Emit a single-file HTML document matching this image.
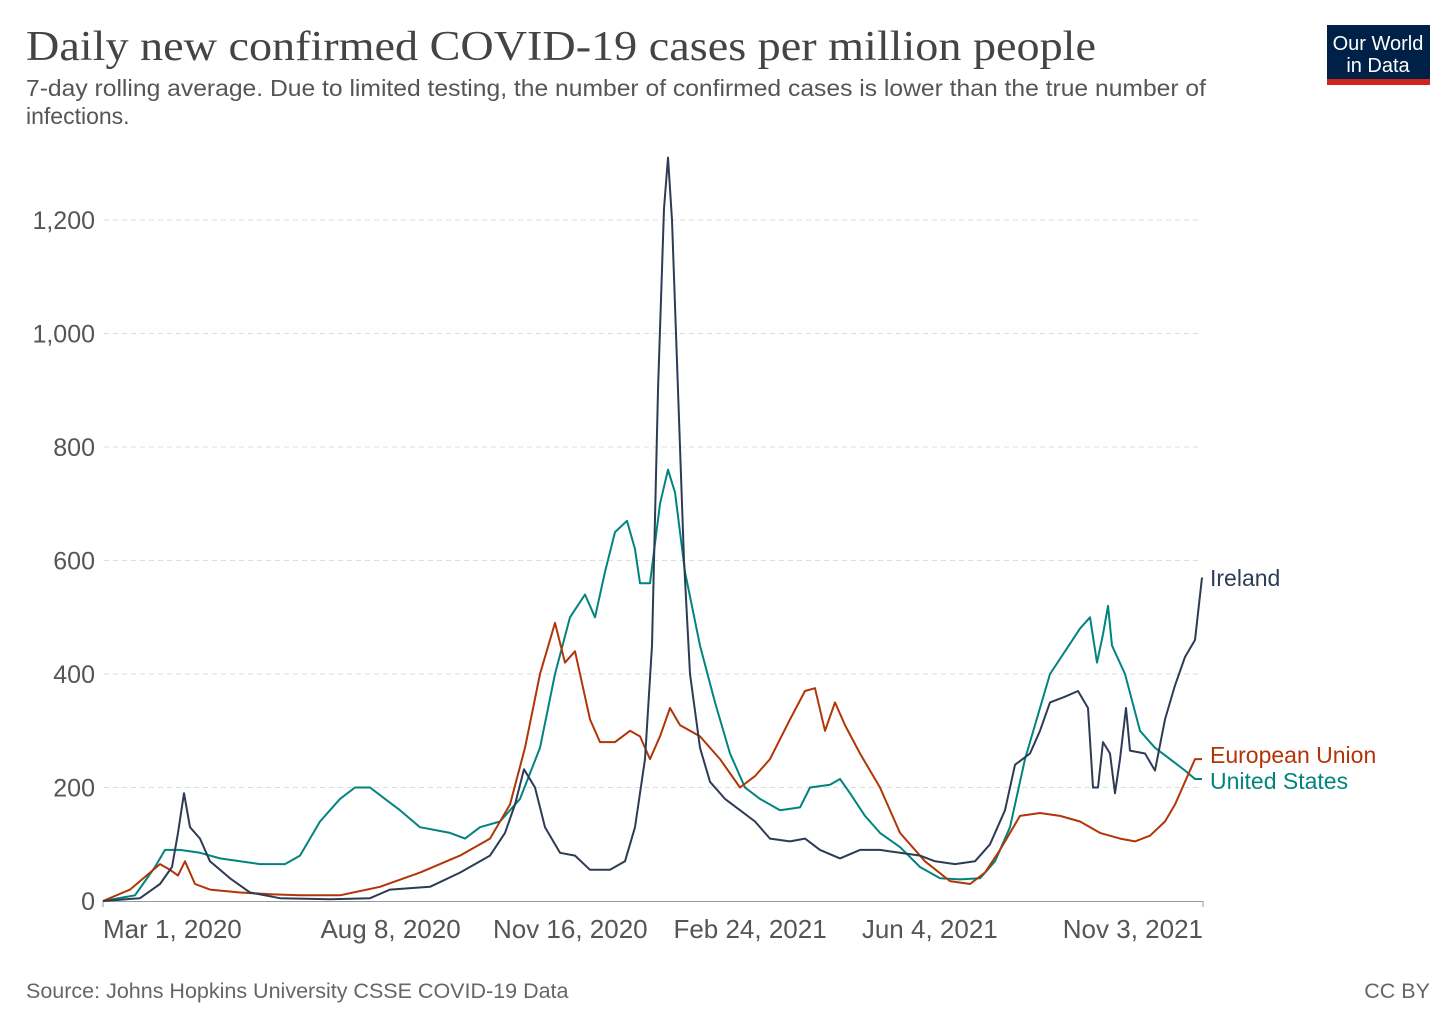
<!DOCTYPE html>
<html><head><meta charset="utf-8"><style>
body{margin:0;background:#fff;width:1456px;height:1028px;overflow:hidden;font-family:"Liberation Sans",sans-serif}
</style></head><body>
<svg width="1456" height="1028" xmlns="http://www.w3.org/2000/svg">
<text x="26" y="60" font-family="Liberation Serif,serif" font-size="42" fill="#444" textLength="1070" lengthAdjust="spacingAndGlyphs">Daily new confirmed COVID-19 cases per million people</text>
<text x="26" y="96" font-size="23" fill="#555" textLength="1180" lengthAdjust="spacingAndGlyphs">7-day rolling average. Due to limited testing, the number of confirmed cases is lower than the true number of</text>
<text x="26" y="124" font-size="23" fill="#555">infections.</text>
<g>
<rect x="1327" y="25" width="103" height="54" fill="#002147"/>
<rect x="1327" y="79" width="103" height="6" fill="#ce261e"/>
<text x="1378" y="50" text-anchor="middle" font-size="20" fill="#fff">Our World</text>
<text x="1378" y="72" text-anchor="middle" font-size="20" fill="#fff">in Data</text>
</g>
<g id="grid"></g><g id="xaxis"></g><g id="lines"></g>
<text x="26" y="998" font-size="21.5" fill="#666">Source: Johns Hopkins University CSSE COVID-19 Data</text>
<text x="1430" y="998" text-anchor="end" font-size="21.5" fill="#666">CC BY</text>
</svg>
<script>
const yTicks=[0,200,400,600,800,1000,1200];
const yTickLabels=["0","200","400","600","800","1,000","1,200"];
const xTickDays=[0,160,260,360,460,612];
const xTickLabels=["Mar 1, 2020","Aug 8, 2020","Nov 16, 2020","Feb 24, 2021","Jun 4, 2021","Nov 3, 2021"];
const irelandPx=[103,140,160,172,178,184,190,200,210,230,250,280,330,370,390,430,460,490,505,515,524,535,545,560,575,590,610,625,635,645,652,658,664,668,672,678,684,690,700,710,725,740,755,770,790,805,820,840,860,880,900,920,935,955,975,990,1005,1015,1030,1040,1050,1065,1078,1088,1093,1098,1103,1110,1115,1120,1126,1130,1145,1155,1165,1175,1185,1195,1202];
const irelandVal=[0,5,30,60,120,190,130,110,70,40,15,5,3,5,20,25,50,80,120,170,232,200,130,85,80,55,55,70,130,250,450,900,1220,1310,1200,900,600,400,270,210,180,160,140,110,105,110,90,75,90,90,85,80,70,65,70,100,160,240,260,300,350,360,370,340,200,200,280,260,190,250,340,265,260,230,320,380,430,460,570];
const euPx=[103,130,150,160,170,178,185,195,210,240,270,300,340,380,420,460,490,510,525,540,555,565,575,590,600,615,630,640,650,660,670,680,700,720,740,755,770,790,805,815,825,835,845,860,880,900,925,950,970,985,1000,1020,1040,1060,1080,1100,1120,1135,1150,1165,1175,1185,1195,1202];
const euVal=[0,20,50,65,55,45,70,30,20,15,12,10,10,25,50,80,110,170,270,400,490,420,440,320,280,280,300,290,250,290,340,310,290,250,200,220,250,320,370,375,300,350,310,260,200,120,70,35,30,50,90,150,155,150,140,120,110,105,115,140,170,210,250,250];
const usPx=[103,135,155,165,180,200,220,240,260,285,300,320,340,355,370,385,400,420,450,465,480,500,520,540,555,570,585,595,605,615,627,635,640,650,660,668,675,685,700,715,730,745,760,780,800,810,830,840,850,865,880,900,920,940,960,980,995,1010,1025,1040,1050,1065,1080,1090,1097,1103,1108,1112,1125,1140,1155,1170,1185,1195,1202];
const usVal=[0,10,60,90,90,85,75,70,65,65,80,140,180,200,200,180,160,130,120,110,130,140,180,270,400,500,540,500,580,650,670,620,560,560,700,760,720,580,450,350,260,200,180,160,165,200,205,215,190,150,120,95,60,40,38,40,70,130,250,340,400,440,480,500,420,470,520,450,400,300,270,250,230,215,215];
const X0=103,X1=1203,Y0=901,K=0.5675;
const xs=d=>X0+d*(X1-X0)/612, ys=v=>Y0-v*K, dayOf=p=>(p-X0)*612/(X1-X0);
const NS="http://www.w3.org/2000/svg";
function mk(t,a,p){const e=document.createElementNS(NS,t);for(const k in a)e.setAttribute(k,a[k]);p.appendChild(e);return e;}
const grid=document.getElementById('grid');
yTicks.forEach((v,i)=>{
 if(v>0){const l=mk('line',{x1:104,x2:1202,y1:ys(v),y2:ys(v),stroke:'#ddd','stroke-dasharray':'5,4'},grid);
 
 }
 const t=mk('text',{x:95,y:ys(v)+9,'text-anchor':'end','font-size':25,fill:'#555'},grid);t.textContent=yTickLabels[i];
 
 
});
const xa=document.getElementById('xaxis');
const ax=mk('line',{x1:103,x2:1203,y1:901.5,y2:901.5,stroke:'#999'},xa);


xTickDays.forEach((d,i)=>{
 const anc=i==0?'start':(i==xTickDays.length-1?'end':'middle');
 if(i==0||i==xTickDays.length-1) mk('line',{x1:xs(d),x2:xs(d),y1:901,y2:907,stroke:'#999'},xa);
 const t=mk('text',{x:xs(d),y:938,'text-anchor':anc,'font-size':26,fill:'#555'},xa);t.textContent=xTickLabels[i];
 
 
});
const lines=document.getElementById('lines');
function series(px,vals,color,name,label,ly){
 const pts=px.map((p,i)=>xs(dayOf(p)).toFixed(1)+','+ys(vals[i]).toFixed(1)).join(' ');
 const pl=mk('polyline',{points:pts,fill:'none',stroke:color,'stroke-width':2,'stroke-linejoin':'round'},lines);
 
 
 const t=mk('text',{x:1210,y:ly,'font-size':23,fill:color},lines);t.textContent=label;
 
 
}
series(usPx,usVal,'#00847e','united-states','United States',789);
series(euPx,euVal,'#b13507','european-union','European Union',763);
series(irelandPx,irelandVal,'#2d3b55','ireland','Ireland',586);
</script>
</body></html>
